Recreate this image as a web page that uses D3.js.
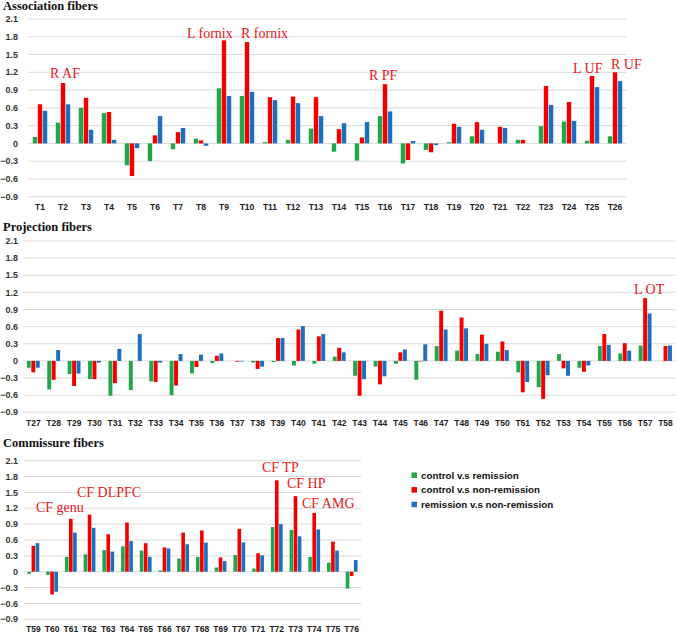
<!DOCTYPE html>
<html><head><meta charset="utf-8">
<script src="https://cdn.jsdelivr.net/npm/d3@7"></script>
<style>body{margin:0;background:#fff}</style>
</head><body>
<svg id="c" width="677" height="632"></svg>
<script>
const seriesNames = ["control v.s remission","control v.s non-remission","remission v.s non-remission"];
const seriesColors = ["#21A74B","#F20000","#1C6EBE"];
const yTicks = [-0.9,-0.6,-0.3,0,0.3,0.6,0.9,1.2,1.5,1.8,2.1];

// Association fibers T1..T26
const assocCats = d3.range(1,27).map(i=>"T"+i);
const assocGreen = [0.11,0.35,0.60,0.51,-0.37,-0.30,-0.10,0.08,0.93,0.80,0.02,0.06,0.25,-0.14,-0.29,0.46,-0.34,-0.11,0.02,0.12,0,0.06,0.29,0.37,0.045,0.12];
const assocRed   = [0.66,1.02,0.77,0.53,-0.55,0.135,0.19,0.05,1.74,1.71,0.78,0.79,0.78,0.24,0.10,1.00,-0.28,-0.15,0.33,0.36,0.28,0.06,0.97,0.70,1.14,1.20];
const assocBlue  = [0.55,0.66,0.23,0.06,-0.08,0.46,0.26,-0.04,0.80,0.87,0.73,0.68,0.46,0.34,0.36,0.54,0.04,-0.03,0.28,0.23,0.26,0,0.65,0.38,0.95,1.05];

// Projection fibers T27..T58
const projCats = d3.range(27,59).map(i=>"T"+i);
const projGreen = [-0.12,-0.50,-0.23,-0.32,-0.61,-0.51,-0.36,-0.60,-0.22,-0.04,0,-0.03,-0.02,-0.08,-0.05,0.075,-0.26,-0.10,-0.05,-0.33,0.26,0.18,0.12,0.16,-0.20,-0.46,0.12,-0.12,0.26,0.13,0.27,0];
const projRed   = [-0.20,-0.33,-0.44,-0.32,-0.39,0,-0.37,-0.43,-0.105,0.09,-0.015,-0.14,0.40,0.55,0.43,0.23,-0.61,-0.41,0.15,-0.01,0.88,0.76,0.46,0.34,-0.55,-0.665,-0.13,-0.19,0.47,0.31,1.10,0.26];
const projBlue  = [-0.12,0.19,-0.22,-0.03,0.21,0.47,-0.03,0.12,0.11,0.13,-0.01,-0.10,0.40,0.61,0.47,0.15,-0.32,-0.27,0.20,0.29,0.55,0.57,0.30,0.19,-0.37,-0.25,-0.26,-0.08,0.28,0.18,0.83,0.27];

// Commissure fibers T59..T76
const commCats = d3.range(59,77).map(i=>"T"+i);
const commGreen = [-0.04,-0.06,0.28,0.33,0.41,0.48,0.40,0.025,0.25,0.28,0.08,0.315,0.06,0.845,0.79,0.28,0.17,-0.32];
const commRed   = [0.49,-0.43,1.00,1.08,0.71,0.93,0.54,0.46,0.74,0.78,0.27,0.81,0.35,1.73,1.43,1.11,0.57,-0.08];
const commBlue  = [0.54,-0.38,0.74,0.83,0.38,0.58,0.28,0.44,0.52,0.55,0.20,0.555,0.31,0.90,0.67,0.80,0.40,0.22];

const assocNotes = [["R AF",50,78],["L fornix",187,38],["R fornix",241,38],["R PF",369,80],["L UF",573,72.5],["R UF",611,69]];
const projNotes = [["L OT",634,294]];
const commNotes = [["CF genu",36,511.5],["CF DLPFC",77,497],["CF TP",262,471.5],["CF HP",287,488],["CF AMG",302,508]];

const panels = [
  {title:"Association fibers", titleY:10, top:19, bottom:196.7, left:28.5, right:626.5, labY:210, cats:assocCats, vals:[assocGreen,assocRed,assocBlue], notes:assocNotes},
  {title:"Projection fibers", titleY:231, top:241, bottom:412.3, left:23.1, right:675.7, labY:425.5, cats:projCats, vals:[projGreen,projRed,projBlue], notes:projNotes},
  {title:"Commissure fibers", titleY:447, top:460.7, bottom:619.3, left:24, right:361, labY:631.5, cats:commCats, vals:[commGreen,commRed,commBlue], notes:commNotes}
];

const svg = d3.select("#c");
panels.forEach(p=>{
  const g = svg.append("g");
  const y = d3.scaleLinear().domain([-0.9,2.1]).range([p.bottom,p.top]);
  const x = d3.scaleBand().domain(p.cats).range([p.left,p.right]).paddingInner(0.37).paddingOuter(0.185);
  const x1 = d3.scaleBand().domain([0,1,2]).range([0,x.bandwidth()]).paddingInner(0.12);
  g.append("text").attr("x",3).attr("y",p.titleY).text(p.title)
    .attr("font-family","Liberation Serif").attr("font-weight","bold").attr("font-size",12.5).attr("fill","#111");
  g.selectAll("line.grid").data(yTicks).join("line")
    .attr("x1",p.left).attr("x2",p.right).attr("y1",d=>y(d)).attr("y2",d=>y(d))
    .attr("stroke","#d9d9d9").attr("stroke-width",1);
  g.selectAll("text.yt").data(yTicks).join("text")
    .attr("x",18).attr("y",d=>y(d)).attr("dy","0.35em").attr("text-anchor","end")
    .attr("font-family","Liberation Sans").attr("font-weight","bold").attr("font-size",9).attr("fill","#333")
    .text(d=>d3.format(".1f")(d).replace(/^0\.0$/,"0").replace("0.0","0"));
  p.vals.forEach((arr,si)=>{
    g.selectAll("rect.s"+si).data(arr).join("rect")
      .attr("x",(d,i)=>x(p.cats[i])+x1(si)).attr("width",x1.bandwidth())
      .attr("y",d=>y(Math.max(0,d))).attr("height",d=>Math.abs(y(d)-y(0)))
      .attr("fill",seriesColors[si]);
  });
  g.selectAll("text.xl").data(p.cats).join("text")
    .attr("x",d=>x(d)+x.bandwidth()/2).attr("y",p.labY).attr("text-anchor","middle")
    .attr("font-family","Liberation Sans").attr("font-weight","bold").attr("font-size",8.5).attr("fill","#222")
    .text(d=>d);
  g.selectAll("text.note").data(p.notes).join("text")
    .attr("x",d=>d[1]).attr("y",d=>d[2]).text(d=>d[0])
    .attr("font-family","Liberation Serif").attr("font-size",14).attr("fill","#E8161B");
});
// legend
const lg = svg.append("g");
seriesNames.forEach((n,i)=>{
  lg.append("rect").attr("x",411.5).attr("y",472.5+i*14.6).attr("width",5.5).attr("height",5.5).attr("fill",seriesColors[i]);
  lg.append("text").attr("x",421).attr("y",475.2+i*14.6).attr("dy","0.35em").text(n)
    .attr("font-family","Liberation Sans").attr("font-weight","bold").attr("font-size",9.8).attr("fill","#111");
});
</script>
</body></html>
